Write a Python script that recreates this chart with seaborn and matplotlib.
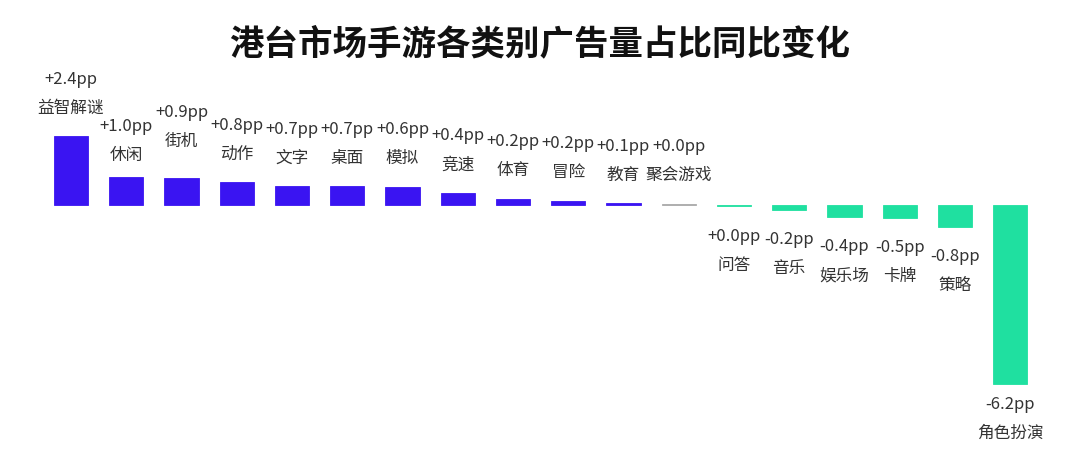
import matplotlib
matplotlib.use("Agg")
import matplotlib.pyplot as plt
import seaborn as sns
import pandas as pd

# Category data
categories = ["益智解谜", "休闲", "街机", "动作", "文字", "桌面", "模拟", "竞速", "体育",
              "冒险", "教育", "聚会游戏", "问答", "音乐", "娱乐场", "卡牌", "策略", "角色扮演"]
changes = [2.4, 0.98, 0.94, 0.8, 0.65, 0.65, 0.63, 0.42, 0.22,
           0.14, 0.06, 0.05, -0.05, -0.17, -0.41, -0.45, -0.76, -6.25]
value_labels = ["+2.4pp", "+1.0pp", "+0.9pp", "+0.8pp", "+0.7pp", "+0.7pp", "+0.6pp", "+0.4pp",
                "+0.2pp", "+0.2pp", "+0.1pp", "+0.0pp", "+0.0pp", "-0.2pp", "-0.4pp", "-0.5pp",
                "-0.8pp", "-6.2pp"]

PURPLE = "#3a14f2"
GREEN = "#1fe0a0"
GRAY = "#aaaaaa"
TEXT = "#333333"

# a few labels sit a bit off the common spacing in the original
label_nudge = {"休闲": -7, "街机": 9, "角色扮演": 9}

sns.set_theme(style="white")
plt.rcParams["font.family"] = ["Noto Sans CJK SC", "DejaVu Sans"]

df = pd.DataFrame({"category": categories, "change": changes})
palette = {}
for cat, val in zip(categories, changes):
    if cat == "聚会游戏":
        palette[cat] = GRAY
    elif val >= 0:
        palette[cat] = PURPLE
    else:
        palette[cat] = GREEN

fig = plt.figure(figsize=(10.8, 4.64), dpi=100)
ax = fig.add_axes([0, 0, 1, 1])
sns.barplot(data=df, x="category", y="change", hue="category", palette=palette,
            legend=False, width=0.62, saturation=1, ax=ax)
for bar, cat in zip(ax.patches, categories):
    bar.set_edgecolor(palette[cat])
    bar.set_linewidth(0.6)

ax.set_xlim(-1.285, 18.265)
ax.set_ylim(-9.02, 7.20)
ax.axis("off")

for i, (cat, val, lab) in enumerate(zip(categories, changes, value_labels)):
    nudge = label_nudge.get(cat, 0)
    if val >= 0:
        ax.annotate(cat, (i, val), xytext=(0, 29 + nudge), textcoords="offset pixels",
                    ha="center", va="center", fontsize=12, color=TEXT)
        ax.annotate(lab, (i, val), xytext=(0, 58 + nudge), textcoords="offset pixels",
                    ha="center", va="center", fontsize=12, color=TEXT)
    else:
        ax.annotate(lab, (i, val), xytext=(0, -29 + nudge), textcoords="offset pixels",
                    ha="center", va="center", fontsize=12, color=TEXT)
        ax.annotate(cat, (i, val), xytext=(0, -58 + nudge), textcoords="offset pixels",
                    ha="center", va="center", fontsize=12, color=TEXT)

fig.text(0.5, 1 - 44 / 464, "港台市场手游各类别广告量占比同比变化", ha="center", va="center",
         fontsize=24.8, fontweight="bold", color="#111111")

fig.savefig("out.png", dpi=100, facecolor="white")
